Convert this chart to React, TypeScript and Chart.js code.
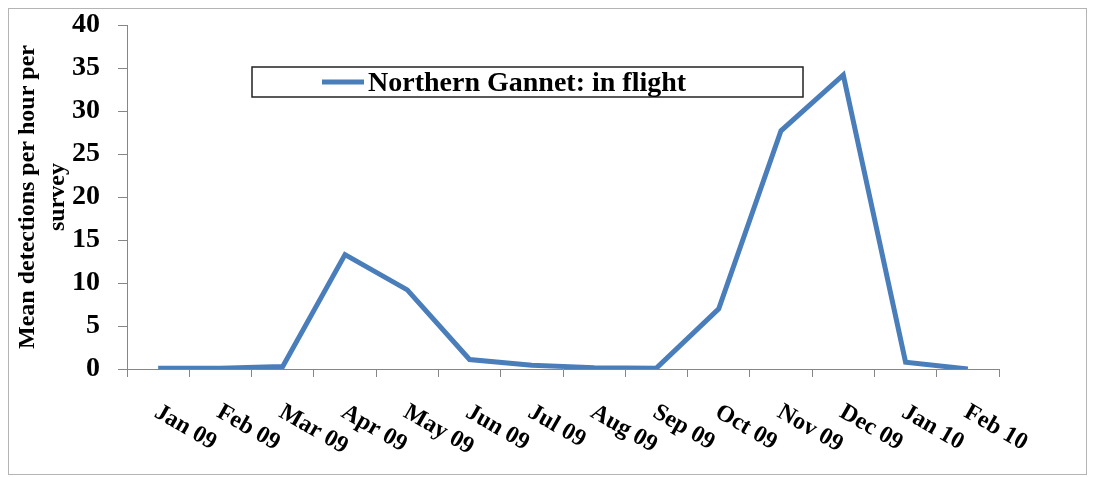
import React, { useEffect, useRef } from "react";
import { Chart, registerables } from "chart.js";

Chart.register(...registerables);

const categories = [
  "Jan 09", "Feb 09", "Mar 09", "Apr 09", "May 09", "Jun 09", "Jul 09",
  "Aug 09", "Sep 09", "Oct 09", "Nov 09", "Dec 09", "Jan 10", "Feb 10",
];
const gannetInFlight = [0.1, 0.1, 0.3, 13.3, 9.2, 1.1, 0.45, 0.15, 0.1, 7.0, 27.7, 34.2, 0.8, 0];
const seriesLabel = "Northern Gannet: in flight";
const yTitle = ["Mean detections per hour per", "survey"];
const yMin = 0;
const yMax = 40;
const yStep = 5;

const LINE_COLOR = "#4A7EBB";
const SERIF = "'Liberation Serif', 'Times New Roman', serif";

const rotatedLabels = {
  id: "rotatedLabels",
  afterDraw(chart: any) {
    const ctx = chart.ctx;
    const xs = chart.scales.x;
    ctx.save();
    ctx.fillStyle = "#000";
    ctx.font = `bold 24px ${SERIF}`;
    ctx.textAlign = "left";
    ctx.textBaseline = "alphabetic";
    categories.forEach((lab, i) => {
      const x = xs.getPixelForValue(i);
      ctx.save();
      ctx.translate(x - 5, xs.top + 47);
      ctx.rotate((30 * Math.PI) / 180);
      ctx.fillText(lab, 0, 0);
      ctx.restore();
    });
    ctx.restore();
  },
};

const boxedLegend = {
  id: "boxedLegend",
  afterDraw(chart: any) {
    const ctx = chart.ctx;
    const ds = chart.data.datasets[0];
    ctx.save();
    ctx.fillStyle = "#fff";
    ctx.strokeStyle = "#222";
    ctx.lineWidth = 1.5;
    ctx.fillRect(243, 58, 551, 30);
    ctx.strokeRect(243, 58, 551, 30);
    ctx.strokeStyle = ds.borderColor;
    ctx.lineWidth = 5;
    ctx.beginPath();
    ctx.moveTo(313, 73);
    ctx.lineTo(355, 73);
    ctx.stroke();
    ctx.fillStyle = "#000";
    ctx.font = `bold 28px ${SERIF}`;
    ctx.textAlign = "left";
    ctx.textBaseline = "middle";
    ctx.fillText(ds.label, 359, 75);
    ctx.restore();
  },
};

export default function App() {
  const ref = useRef<HTMLCanvasElement | null>(null);
  useEffect(() => {
    if (!ref.current) return;
    const chart = new Chart(ref.current, {
      type: "line",
      data: {
        labels: categories,
        datasets: [
          {
            label: seriesLabel,
            data: gannetInFlight,
            borderColor: LINE_COLOR,
            backgroundColor: LINE_COLOR,
            borderWidth: 5,
            pointRadius: 0,
            tension: 0,
            borderJoinStyle: "miter",
          },
        ],
      },
      options: {
        animation: false,
        responsive: false,
        maintainAspectRatio: false,
        layout: { padding: { top: 16, right: 87, left: 0, bottom: 0 } },
        plugins: {
          legend: { display: false },
          tooltip: { enabled: false },
        },
        scales: {
          x: {
            type: "category",
            offset: true,
            grid: {
              offset: true,
              drawOnChartArea: false,
              drawTicks: true,
              tickLength: 8,
              color: "#868686",
            },
            border: { display: true, color: "#868686", width: 1 },
            ticks: { display: false },
            afterFit(scale: any) {
              scale.height = 105;
              scale.paddingLeft = 0;
              scale.paddingRight = 0;
            },
          },
          y: {
            min: yMin,
            max: yMax,
            grid: {
              drawOnChartArea: false,
              drawTicks: true,
              tickLength: 9,
              color: "#868686",
            },
            border: { display: true, color: "#868686", width: 1 },
            ticks: {
              stepSize: yStep,
              color: "#000",
              padding: 18,
              font: { family: SERIF, size: 28, weight: "bold", lineHeight: 1 },
            },
            title: {
              display: true,
              text: yTitle,
              color: "#000",
              padding: { top: 4, bottom: 0 },
              font: { family: SERIF, size: 24, weight: "bold", lineHeight: 1.25 },
            },
            afterFit(scale: any) {
              scale.width = 118;
              scale.paddingTop = 0;
              scale.paddingBottom = 0;
            },
          },
        },
      },
      plugins: [rotatedLabels, boxedLegend],
    });
    return () => chart.destroy();
  }, []);

  return (
    <div
      style={{
        width: 1079,
        height: 467,
        border: "1px solid #b4b4b4",
        boxSizing: "border-box",
        background: "#fff",
      }}
    >
      <canvas ref={ref} width={1077} height={465} style={{ display: "block" }} />
    </div>
  );
}
